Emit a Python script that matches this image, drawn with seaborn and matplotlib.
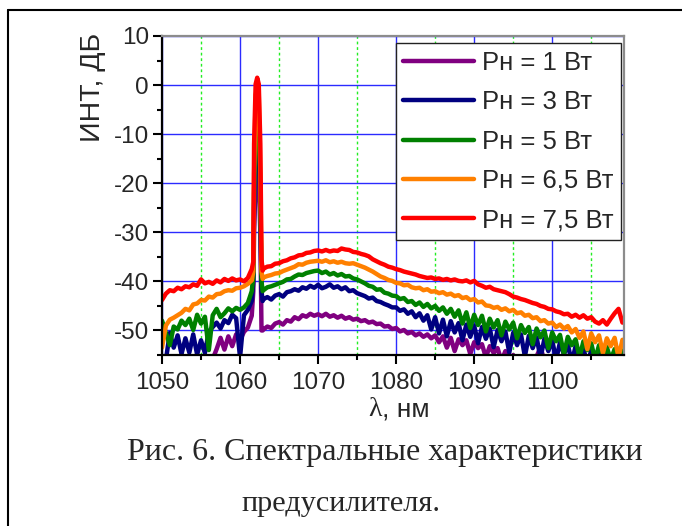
import numpy as np
import pandas as pd
import matplotlib
matplotlib.use("Agg")
import matplotlib.pyplot as plt
from matplotlib.lines import Line2D
from matplotlib.ticker import MultipleLocator, FixedLocator
import seaborn as sns

# Sampling grid of the spectrum analyser trace, nm (denser around the seed line)
wavelength = np.r_[np.arange(1050.0, 1061.51, 0.5),
                   [1061.7, 1061.8, 1062.0, 1062.2, 1062.4, 1062.6, 1062.75, 1062.9],
                   np.arange(1063.0, 1109.01, 0.5)]

labels = ["Рн = 1 Вт", "Рн = 3 Вт", "Рн = 5 Вт", "Рн = 6,5 Вт", "Рн = 7,5 Вт"]
colors = ["#800080", "#000080", "#008000", "#ff8000", "#ff0000"]

x_ticks = [1050, 1060, 1070, 1080, 1090, 1100]
y_ticks = [-50, -40, -30, -20, -10, 0, 10]

# Spectral intensity, dB
p_1w = [-58.0, -58.0, -58.0, -58.0, -58.0, -58.0, -57.5, -58.0, -57.5, -58.0,
        -57.0, -57.5, -56.5, -55.8, -53.8, -51.5, -53.9, -51.2, -53.2, -50.8,
        -52.0, -50.3, -49.4, -47.0,
        -42.0, -30.0, -19.0, -16.0, -19.0, -30.0, -50.0, -50.0,
        -49.8, -49.2, -49.5, -48.6, -48.3, -48.8, -47.9, -48.2, -47.3, -47.7,
        -46.9, -47.2, -46.6, -47.0, -46.7, -47.1, -46.6, -47.2, -46.9, -47.4,
        -47.0, -47.6, -47.3, -47.8, -47.6, -48.1, -47.9, -48.4, -48.2, -48.7,
        -48.6, -49.2, -49.1, -49.7, -49.5, -50.2, -49.9, -50.6, -50.3, -51.0,
        -50.6, -51.3, -50.8, -51.6, -51.0, -52.4, -51.2, -53.5, -51.5, -54.2,
        -51.8, -53.0, -52.0, -54.8, -52.4, -53.6, -52.8, -55.5, -53.2, -54.6,
        -53.6, -56.2, -54.2, -56.8, -55.0, -57.0, -55.6, -57.5, -56.0, -57.5,
        -55.3, -53.4, -56.2, -57.5, -56.8, -58.0, -57.2, -58.0, -57.6, -58.0,
        -58.0, -58.0, -58.0, -58.0, -58.0, -58.0, -58.0, -58.0, -58.0, -58.0,
        -58.0, -58.0, -58.0]

p_3w = [-57.0, -56.0, -50.5, -53.5, -51.0, -54.8, -51.6, -54.5, -50.8, -54.9,
        -52.0, -54.6, -50.2, -49.3, -48.4, -49.6, -47.9, -48.5, -46.8, -47.5,
        -55.5, -46.9, -45.8, -44.0,
        -40.0, -25.0, -11.0, -8.5, -11.0, -25.0, -42.0, -44.0,
        -43.6, -43.2, -43.7, -42.9, -42.6, -43.1, -42.2, -42.0, -41.6, -41.9,
        -41.2, -41.5, -40.9, -41.3, -40.7, -41.4, -41.1, -40.6, -41.3, -41.0,
        -41.6, -41.2, -42.0, -41.8, -42.4, -42.7, -43.0, -43.5, -43.3, -44.0,
        -44.2, -44.6, -44.9, -45.3, -45.3, -46.0, -45.7, -46.6, -46.1, -47.3,
        -46.5, -48.0, -46.9, -49.8, -47.3, -50.6, -47.8, -51.2, -48.1, -50.4,
        -48.5, -52.0, -48.8, -51.3, -49.0, -52.6, -49.3, -51.7, -49.6, -53.4,
        -49.9, -52.2, -50.2, -54.5, -50.5, -53.0, -50.8, -55.3, -51.1, -53.6,
        -51.4, -55.6, -51.7, -54.2, -52.0, -56.0, -52.4, -54.9, -52.8, -56.5,
        -53.2, -55.4, -53.6, -57.0, -54.0, -56.2, -54.5, -57.0, -54.7, -56.8,
        -55.1, -57.0, -55.8]

p_5w = [-48.0, -50.5, -53.0, -49.2, -49.8, -48.0, -48.9, -47.6, -49.9, -46.8,
        -48.6, -47.2, -54.0, -46.9, -45.6, -47.3, -46.5, -45.5, -46.1, -45.4,
        -45.8, -45.3, -44.4, -42.0,
        -39.0, -22.0, -6.5, -4.5, -6.5, -22.0, -40.0, -42.0,
        -41.8, -41.2, -41.0, -40.7, -40.4, -40.1, -39.6, -39.5, -39.0, -38.6,
        -38.7, -38.3, -38.1, -37.9, -37.8, -38.3, -38.0, -38.6, -38.3, -38.8,
        -38.5, -39.0, -38.9, -39.4, -39.6, -40.0, -40.4, -40.9, -41.1, -41.7,
        -41.6, -42.3, -42.5, -42.9, -43.0, -43.6, -43.4, -44.2, -44.0, -44.8,
        -44.3, -45.2, -44.6, -45.5, -45.0, -46.0, -45.3, -46.6, -45.6, -47.2,
        -45.9, -48.6, -46.3, -49.5, -46.8, -48.9, -47.0, -50.2, -47.6, -49.4,
        -47.9, -51.0, -48.2, -49.8, -48.4, -51.6, -48.9, -50.5, -49.3, -52.8,
        -49.6, -51.4, -50.0, -53.6, -50.4, -52.2, -50.9, -54.8, -51.3, -53.0,
        -51.8, -55.5, -52.2, -54.0, -52.6, -56.0, -53.0, -55.2, -53.4, -56.0,
        -53.8, -55.6, -54.1]

p_65w = [-53.5, -49.0, -47.8, -47.4, -46.9, -46.4, -45.6, -45.9, -44.7, -44.5,
         -43.8, -43.9, -43.1, -43.3, -42.6, -42.5, -42.0, -41.8, -41.9, -41.4,
         -41.3, -41.0, -40.5, -39.8,
         -38.0, -18.0, -2.0, -0.5, -2.0, -18.0, -38.0, -39.5,
         -39.2, -38.9, -38.7, -38.4, -38.3, -37.9, -37.6, -37.3, -37.0, -36.5,
         -36.6, -36.2, -36.0, -35.9, -35.8, -36.0, -35.7, -36.1, -35.9, -36.2,
         -36.0, -36.3, -36.4, -36.3, -36.6, -36.9, -37.2, -37.6, -38.0, -38.5,
         -39.0, -39.3, -39.7, -39.9, -40.3, -40.4, -40.8, -40.7, -41.2, -41.4,
         -41.3, -41.8, -41.6, -42.1, -42.0, -42.4, -42.2, -42.7, -42.5, -43.0,
         -42.8, -43.4, -43.2, -43.8, -43.6, -44.3, -44.1, -44.9, -45.0, -45.4,
         -45.2, -45.8, -45.5, -46.1, -45.8, -46.5, -46.3, -47.0, -46.8, -47.5,
         -47.3, -48.1, -47.9, -48.6, -48.4, -49.3, -48.8, -49.6, -49.1, -50.4,
         -49.7, -51.5, -50.2, -53.8, -50.6, -52.4, -51.0, -54.6, -51.6, -53.2,
         -51.5, -55.5, -51.9]

p_75w = [-43.8, -42.5, -41.8, -42.0, -41.3, -41.6, -41.0, -41.2, -40.6, -40.9,
         -39.6, -40.4, -40.1, -40.5, -39.8, -40.2, -39.5, -39.9, -39.4, -39.8,
         -39.6, -40.0, -39.3, -37.5,
         -36.0, -12.0, 0.2, 1.5, 0.2, -12.0, -35.5, -37.8,
         -37.4, -37.0, -36.9, -36.4, -36.3, -35.9, -35.7, -35.3, -35.1, -34.7,
         -34.6, -34.2, -34.1, -33.8, -33.7, -33.9, -33.6, -33.9, -33.7, -33.8,
         -33.3, -33.5, -33.6, -34.0, -34.1, -34.4, -34.6, -34.9, -35.5, -35.9,
         -36.3, -36.6, -37.0, -37.2, -37.5, -37.7, -38.0, -38.2, -38.4, -38.6,
         -38.9, -39.1, -39.3, -39.2, -39.5, -39.4, -39.7, -39.5, -39.8, -39.6,
         -39.9, -40.0, -39.8, -40.2, -39.9, -40.6, -40.9, -41.3, -41.1, -41.6,
         -41.8, -42.0, -42.2, -42.6, -43.1, -43.3, -43.6, -43.8, -44.1, -44.4,
         -44.6, -45.0, -45.2, -45.6, -45.7, -46.1, -46.3, -46.7, -46.6, -47.2,
         -46.8, -47.4, -46.9, -47.6, -47.3, -48.2, -48.6, -47.9, -48.8, -47.6,
         -46.5, -45.6, -48.4]

series = [p_1w, p_3w, p_5w, p_65w, p_75w]

sns.set_style("white")
plt.rcParams["font.family"] = ["Liberation Sans", "DejaVu Sans"]
plt.rcParams["axes.unicode_minus"] = False

W, H = 682, 526
fig = plt.figure(figsize=(W / 100, H / 100), dpi=100)
fig.patch.set_facecolor("white")

# axes box in pixel units: left 162, right 624, top 36, bottom 355
ax = fig.add_axes([162 / W, 1 - 355 / H, 462 / W, 319 / H])

df = pd.concat([pd.DataFrame({"lam": wavelength, "I": vals, "P": lab})
                for vals, lab in zip(series, labels)], ignore_index=True)

sns.lineplot(data=df, x="lam", y="I", hue="P", hue_order=labels, palette=colors,
             estimator=None, sort=False, lw=3.2, legend=False, ax=ax,
             solid_joinstyle="round")

ax.set_xlim(1050, 1109.2)
ax.set_ylim(-55, 10)
ax.xaxis.set_major_locator(FixedLocator(x_ticks))
ax.yaxis.set_major_locator(FixedLocator(y_ticks))
ax.xaxis.set_minor_locator(MultipleLocator(5))
ax.yaxis.set_minor_locator(MultipleLocator(5))
ax.set_xlabel("")
ax.set_ylabel("")

ax.set_axisbelow(True)
ax.grid(which="major", color="#2b2bff", lw=1.0)
ax.xaxis.grid(which="minor", color="#22ee22", lw=1.0, ls=(0, (2.0, 2.0)))
ax.yaxis.grid(False, which="minor")

for side in ("left", "bottom"):
    ax.spines[side].set_color("black")
    ax.spines[side].set_linewidth(1.6)
for side in ("top", "right"):
    ax.spines[side].set_color("#8c8c8c")
    ax.spines[side].set_linewidth(1.6)

ax.tick_params(which="both", direction="out", top=False, right=False,
               left=True, bottom=True, color="black", width=1.5)
ax.tick_params(which="major", length=6.5, labelsize=17.5)
ax.tick_params(which="minor", length=3.5)
ax.tick_params(axis="x", which="major", pad=6)
ax.tick_params(axis="y", which="major", pad=3)

leg = ax.legend(ax.get_lines()[:5], labels, loc="upper right",
                bbox_to_anchor=(0.9935, 0.978), borderaxespad=0,
                fontsize=18.5, frameon=True, fancybox=False, framealpha=1,
                edgecolor="#222222", borderpad=0.3, labelspacing=0.6,
                handlelength=2.75, handletextpad=0.3)
leg.get_frame().set_linewidth(1.0)

# axis titles
fig.text(93 / W, 1 - 87 / H, "ИНТ, ДБ", rotation=90, ha="center", va="center",
         fontsize=20.5)
fig.text(382 / W, 1 - 416 / H, "λ", ha="right", va="baseline", fontsize=20,
         family=["Liberation Serif", "DejaVu Serif"])
fig.text(382 / W, 1 - 416 / H, ", нм", ha="left", va="baseline", fontsize=19)

# caption
fig.text(385 / W, 1 - 460 / H, "Рис. 6. Спектральные характеристики",
         ha="center", va="baseline", fontsize=23,
         family=["Liberation Serif", "DejaVu Serif"])
fig.text(341 / W, 1 - 511 / H, "предусилителя.", ha="center", va="baseline",
         fontsize=21.8, family=["Liberation Serif", "DejaVu Serif"])

# page frame around the figure
fig.add_artist(Line2D([8 / W, 8 / W], [0, 1 - 10 / H], transform=fig.transFigure,
                      color="black", lw=1.5))
fig.add_artist(Line2D([8 / W, 1], [1 - 10 / H, 1 - 10 / H], transform=fig.transFigure,
                      color="black", lw=1.5))

fig.savefig("out.png", dpi=100, facecolor="white")
